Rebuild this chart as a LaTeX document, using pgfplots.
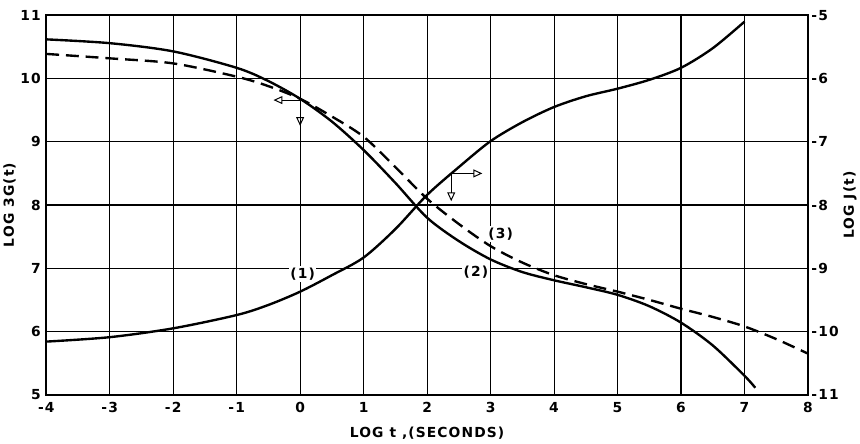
\documentclass[border=0pt]{standalone}
\usepackage{fontspec}
\setmainfont{DejaVu Sans}[LetterSpace=8]
\usepackage{pgfplots}
\pgfplotsset{compat=1.18}
\usetikzlibrary{arrows.meta}

\pgfplotsset{
  common/.style={
    scale only axis, width=771pt, height=384pt,
    xmin=-4, xmax=8,
    tick style={draw=none},
    /pgf/number format/assume math mode=true,
    ticklabel style={font=\fontsize{14}{16}\selectfont\bfseries},
    label style={font=\fontsize{14}{16}\selectfont\bfseries},
  },
  curve/.style={black, line width=2.4pt, smooth},
}

\begin{document}
\begin{tikzpicture}
\begin{axis}[
  common,
  ymin=5, ymax=11,
  xtick={-4,...,8}, ytick={5,...,11},
  ytick pos=left,
  grid=major, major grid style={black, line width=1.1pt},
  axis line style={line width=1.8pt},
  xticklabel style={yshift=-4pt},
  yticklabel style={xshift=-2pt},
  xlabel={LOG t ,(SECONDS)},
  ylabel={LOG 3G(t)},
  xlabel style={yshift=-8pt},
  ylabel style={yshift=-2pt},
  clip=false,
]
% (2) solid
\addplot[curve] coordinates {
(-4,10.62) (-3,10.56) (-2,10.43) (-1,10.17) (-0.5,9.96) (0,9.68) (0.5,9.32)
(1,8.87) (1.5,8.35) (2,7.80) (2.5,7.43) (3,7.14) (3.5,6.94)
(4,6.81) (4.5,6.70) (5,6.58) (5.5,6.40) (6,6.14) (6.5,5.78) (7,5.30) (7.17,5.11)
};
% (3) dashed
\addplot[curve, dash pattern=on 13pt off 7pt] coordinates {
(-4,10.39) (-3,10.32) (-2,10.24) (-1,10.03) (-0.5,9.88) (0,9.68) (0.5,9.40)
(1,9.08) (1.5,8.60) (2,8.10) (2.5,7.70) (3,7.35) (3.5,7.09) (4,6.89)
(4.5,6.75) (5,6.63) (5.5,6.50) (6,6.36) (6.5,6.23) (7,6.08) (7.5,5.88) (8,5.65)
};
\node[fill=white, inner sep=1.5pt, font=\fontsize{14}{16}\selectfont\bfseries] at (axis cs:0.04,6.91) {(1)};
\node[fill=white, inner sep=1.5pt, font=\fontsize{14}{16}\selectfont\bfseries] at (axis cs:2.77,6.94) {(2)};
\node[fill=white, inner sep=1.5pt, font=\fontsize{14}{16}\selectfont\bfseries] at (axis cs:3.16,7.54) {(3)};
\draw[line width=1pt, -{Triangle[open,length=9pt,width=8pt]}] (axis cs:0,9.66) -- (axis cs:-0.42,9.66);
\draw[line width=1pt, -{Triangle[open,length=9pt,width=8pt]}] (axis cs:0,9.66) -- (axis cs:0,9.25);
\draw[line width=1pt, -{Triangle[open,length=9pt,width=8pt]}] (axis cs:2.38,8.50) -- (axis cs:2.87,8.50);
\draw[line width=1pt, -{Triangle[open,length=9pt,width=8pt]}] (axis cs:2.38,8.50) -- (axis cs:2.38,8.06);
\end{axis}
\begin{axis}[
  common,
  ymin=-11, ymax=-5,
  ytick={-11,...,-5},
  axis y line*=right, axis x line=none,
  axis line style={line width=1.8pt},
  ylabel={LOG J(t)},
  ylabel style={yshift=2pt},
]
% (1) J(t)
\addplot[curve] coordinates {
(-4,-10.16) (-3,-10.09) (-2,-9.95) (-1,-9.74) (-0.5,-9.58) (0,-9.37) (0.5,-9.11)
(1,-8.83) (1.5,-8.38) (2,-7.84) (2.5,-7.40) (3,-6.99) (3.5,-6.69) (4,-6.45)
(4.5,-6.28) (5,-6.16) (5.5,-6.02) (6,-5.83) (6.5,-5.52) (7,-5.10)
};
\end{axis}
\path ([yshift=7pt]current bounding box.north);
\end{tikzpicture}
\end{document}
